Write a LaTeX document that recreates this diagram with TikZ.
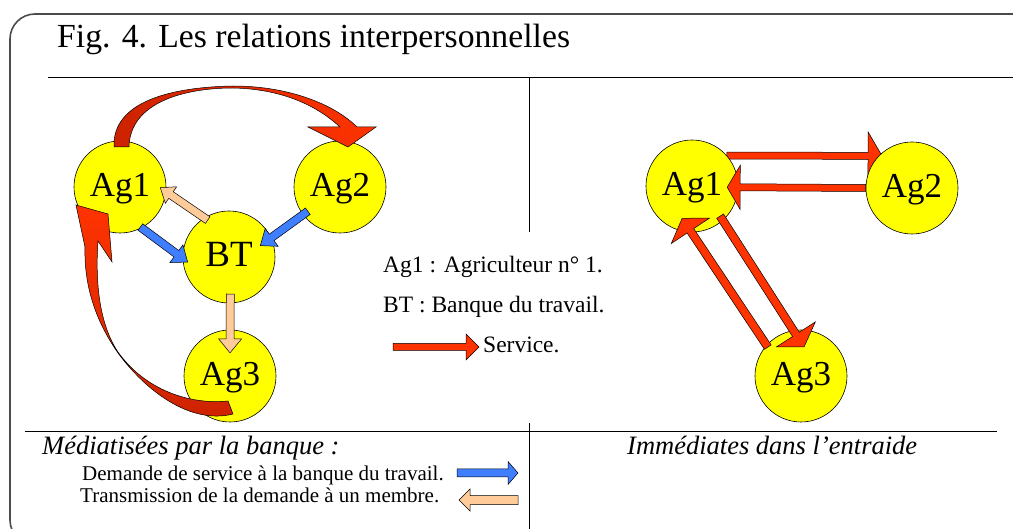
\documentclass[tikz,border=0pt]{standalone}
\usepackage{fontspec}
\setmainfont{Liberation Serif}
\usetikzlibrary{calc,backgrounds}

\definecolor{agyellow}{HTML}{FFFF00}
\definecolor{servred}{HTML}{FF3300}
\definecolor{darkserv}{HTML}{CC2200}
\definecolor{askblue}{HTML}{3F7FFF}
\definecolor{passpeach}{HTML}{FFCC99}

% block arrow: style, from, to, half shaft, half head, head length
\newcommand\fatarrow[6]{%
  \coordinate (fa-h) at ($(#3)!#6!(#2)$);
  \draw[#1] ($(#2)!#4!90:(#3)$) -- ($(fa-h)!#4!90:(#3)$) -- ($(fa-h)!#5!90:(#3)$) -- (#3)
    -- ($(fa-h)!#5!-90:(#3)$) -- ($(fa-h)!#4!-90:(#3)$) -- ($(#2)!#4!-90:(#3)$) -- cycle;
}

\begin{document}
\begin{tikzpicture}[
x=1pt,
y=-1pt,
agent/.style={
  circle,
  draw,
  fill=agyellow,
  minimum size=92pt,
  inner sep=0pt,
  line width=0.6pt,
  text depth=.48em,
  font=\fontsize{35}{38}\selectfont
  },
txt/.style={
  anchor=base west,
  inner sep=0pt,
  font=\fontsize{23.5}{26}\selectfont
  },
redarrow/.style={draw=black, fill=servred, line width=0.5pt},
bluearrow/.style={draw=black, fill=askblue, line width=0.5pt},
peacharrow/.style={draw=black, fill=passpeach, line width=0.5pt},
curvearrow/.style={draw=black, line width=0.5pt},
sepline/.style={draw=black, line width=1pt},
frame/.style={draw=black!70, line width=1.6pt, rounded corners=25pt}
]
\useasboundingbox (0,0) rectangle (1013,529);
\clip (0,0) rectangle (1013,529);

% frame and separators
\draw[frame] (1030,14) -- (10,14) -- (10,545) -- (1030,545);
\draw[sepline] (48,78) -- (1013,78);
\draw[sepline] (25,432) -- (997,432);
\draw[sepline] (529,78) -- (529,232);
\draw[sepline] (529,423) -- (529,529);

\node[txt, font=\fontsize{33.7}{36}\selectfont] (title) at (57,48) {Fig. 4. Les relations interpersonnelles};

% mediated relations
\node[agent] (lAgone) at (120,187) {Ag1};
\node[agent] (lAgtwo) at (340,187) {Ag2};
\node[agent, font=\fontsize{37}{40}\selectfont] (lBT) at (229,257) {BT};
\node[agent] (lAgthree) at (230,376) {Ag3};

\coordinate (askA) at ($(lAgone)!0.97!(lAgone.-63)$);
\coordinate (askAend) at ($(lBT)!0.9!(lBT.187)$);
\coordinate (askB) at ($(lAgtwo)!0.87!(lAgtwo.217)$);
\coordinate (askBend) at ($(lBT)!0.72!(lBT.20)$);
\coordinate (passA) at ($(lBT)!0.92!(lBT.120)$);
\coordinate (passAend) at ($(lAgone)!0.87!(lAgone.-1)$);
\coordinate (passB) at ($(lBT)!0.8!(lBT.-88)$);
\coordinate (passBend) at ($(lAgthree)!0.5!(lAgthree.90)$);

\fatarrow{bluearrow}{askA}{askAend}{4pt}{11pt}{14pt}
\fatarrow{bluearrow}{askB}{askBend}{4pt}{11pt}{14pt}
\fatarrow{peacharrow}{passA}{passAend}{4pt}{10pt}{13pt}
\fatarrow{peacharrow}{passB}{passBend}{4pt}{11.5pt}{14pt}

\draw[curvearrow, left color=darkserv, right color=servred]
  (114,147) .. controls (112,100) and (175,87) .. (233,86)
  .. controls (290,86) and (335,105) .. (357,127)
  -- (376,127) -- (348,147) -- (308,127) -- (340,127)
  .. controls (315,104) and (280,89) .. (233,88)
  .. controls (185,88) and (130,102) .. (129,147) -- cycle;
\draw[curvearrow, top color=servred, bottom color=darkserv]
  (233,414) .. controls (190,425) and (145,390) .. (118,353)
  .. controls (95,320) and (84,285) .. (85,247)
  -- (76,205) -- (108,214) -- (112,262) -- (98,241)
  .. controls (95,285) and (100,325) .. (118,352)
  .. controls (145,390) and (190,405) .. (228,401) -- cycle;

% legend
\node[txt] (legAg) at (383,273) {Ag1 : Agriculteur n° 1.};
\node[txt] (legBT) at (383,313) {BT : Banque du travail.};
\node[txt] (legService) at (483,353) {Service.};
\coordinate (servA) at (393,347);
\coordinate (servB) at (479,347);
\fatarrow{redarrow}{servA}{servB}{3.5pt}{13pt}{13pt}

% immediate relations
\node[agent] (rAgone) at (692,186) {Ag1};
\node[agent] (rAgtwo) at (912,188) {Ag2};
\node[agent] (rAgthree) at (801,376) {Ag3};

\coordinate (giveA) at (rAgone.41);
\coordinate (giveAend) at ($(rAgtwo)!0.95!(rAgtwo.133)$);
\coordinate (giveB) at (rAgtwo.180);
\coordinate (giveBend) at ($(rAgone)!0.76!(rAgone.-2)$);
\coordinate (giveC) at ($(rAgone)!0.89!(rAgone.-47)$);
\coordinate (giveCend) at ($(rAgthree)!0.63!(rAgthree.84)$);
\coordinate (giveD) at ($(rAgthree)!0.95!(rAgthree.139)$);
\coordinate (giveDend) at ($(rAgone)!0.73!(rAgone.-107)$);

\begin{pgfonlayer}{background}
\fatarrow{redarrow}{giveA}{giveAend}{3.5pt}{24pt}{14pt}
\end{pgfonlayer}
\fatarrow{redarrow}{giveB}{giveBend}{3.5pt}{22pt}{13pt}
\fatarrow{redarrow}{giveC}{giveCend}{4pt}{23pt}{15pt}
\fatarrow{redarrow}{giveD}{giveDend}{4pt}{23pt}{15pt}

% bottom captions
\node[txt, font=\fontsize{26.5}{30}\itshape] (mediated) at (42,454) {Médiatisées par la banque :};
\node[txt, font=\fontsize{26.5}{30}\itshape] (immediate) at (627,454) {Immédiates dans l’entraide};
\node[txt, font=\fontsize{21}{24}\selectfont] (demande) at (82,481) {Demande de service à la banque du travail.};
\node[txt, font=\fontsize{21}{24}\selectfont] (transmission) at (80,502) {Transmission de la demande à un membre.};
\coordinate (askkeyA) at (457,473);
\coordinate (askkeyB) at (518,473);
\coordinate (passkeyA) at (518,500);
\coordinate (passkeyB) at (459,500);
\fatarrow{bluearrow}{askkeyA}{askkeyB}{4pt}{11.5pt}{10pt}
\fatarrow{peacharrow}{passkeyA}{passkeyB}{4.5pt}{11pt}{11pt}

\end{tikzpicture}
\end{document}
